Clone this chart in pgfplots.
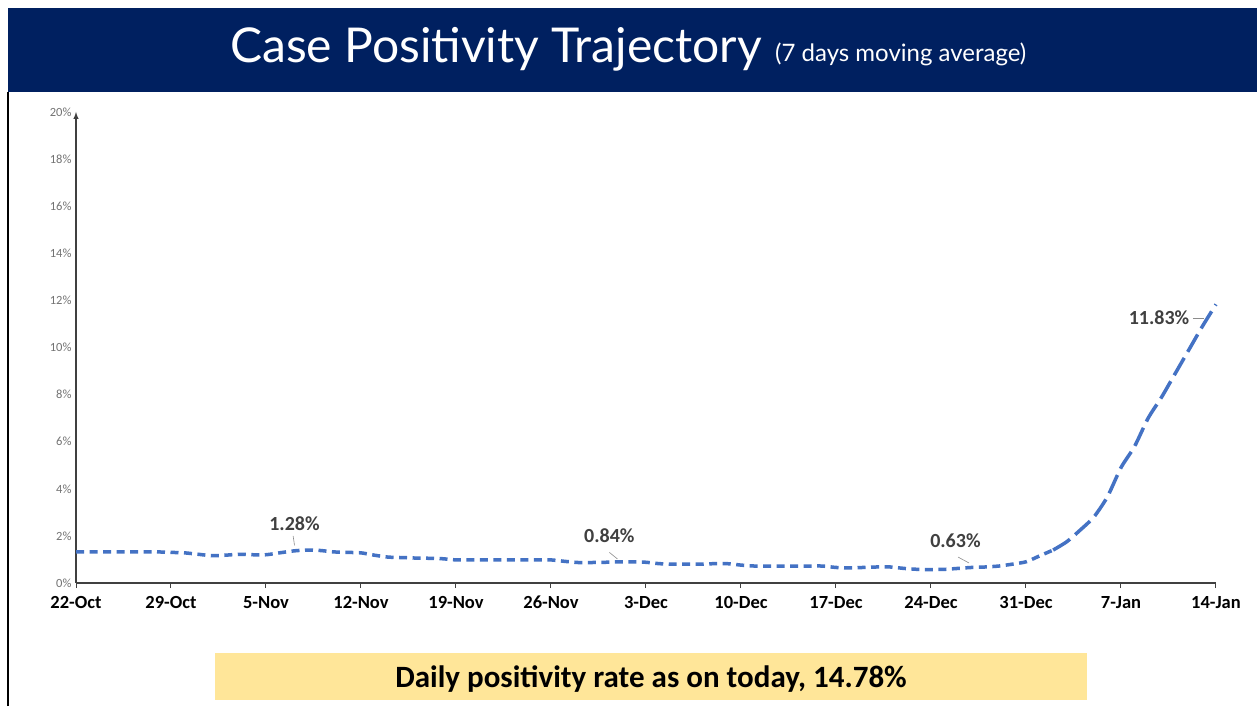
\documentclass[border=0pt]{standalone}
\usepackage{fontspec}
\setmainfont{Carlito}
\newfontfamily\titlefont{Lato}
\usepackage{pgfplots}
\usepackage{pgfplotstable}
\pgfplotsset{compat=1.18}
\definecolor{navy}{RGB}{0,32,96}
\definecolor{lineblue}{RGB}{68,114,196}
\definecolor{boxyellow}{RGB}{255,230,153}
\definecolor{annot}{RGB}{64,64,64}

\pgfplotstableread{
day val
0 1.32
1 1.32
2 1.32
3 1.32
4 1.32
5 1.32
6 1.32
7 1.30
8 1.28
9 1.22
10 1.16
11 1.18
12 1.22
13 1.20
14 1.20
15 1.28
16 1.36
17 1.40
18 1.38
19 1.32
20 1.30
21 1.28
22 1.18
23 1.10
24 1.08
25 1.06
26 1.05
27 1.03
28 0.98
29 0.98
30 0.98
31 0.98
32 0.98
33 0.98
34 0.98
35 0.98
36 0.92
37 0.87
38 0.87
39 0.88
40 0.90
41 0.90
42 0.88
43 0.82
44 0.80
45 0.80
46 0.80
47 0.82
48 0.82
49 0.76
50 0.72
51 0.72
52 0.72
53 0.72
54 0.72
55 0.72
56 0.66
57 0.64
58 0.66
59 0.68
60 0.68
61 0.62
62 0.58
63 0.57
64 0.58
65 0.62
66 0.66
67 0.68
68 0.72
69 0.80
70 0.90
71 1.15
72 1.40
}\flatdata

\pgfplotstableread{
day val
72 1.40
73 1.75
74 2.25
75 2.80
76 3.66
77 4.90
78 5.80
79 7.00
80 7.90
81 8.90
82 9.90
83 10.90
84 11.83
}\risedata

\begin{document}
\begin{tikzpicture}[x=1pt,y=1pt]
\path[fill=white] (0,0) rectangle (1257,706);
\fill[navy] (8,614) rectangle (1257,698);
\draw[black, line width=1.5pt] (8,0) -- (8,614);
\node[anchor=base west, text=white, inner sep=0pt] at (230,643)
  {\titlefont\fontsize{48}{48}\selectfont Case Positivity Trajectory};
\node[anchor=base west, text=white, inner sep=0pt] at (775,644)
  {\titlefont\fontsize{24}{24}\selectfont (7 days moving average)};

\fill[boxyellow] (215,6) rectangle (1087,53);
\node[text=black, inner sep=0pt] at (651,27)
  {\fontsize{31}{31}\selectfont\bfseries Daily positivity rate as on today, 14.78\%};

\begin{axis}[
  at={(76pt,123pt)}, anchor=south west,
  scale only axis, width=1140pt, height=471pt,
  xmin=0, xmax=84, ymin=0, ymax=20,
  axis x line*=bottom, axis y line*=left,
  x axis line style={-, line width=1.6pt, draw=black!75},
  y axis line style={-latex, line width=1.4pt, draw=black!75},
  xtick={0,7,...,84},
  xticklabels={22-Oct,29-Oct,5-Nov,12-Nov,19-Nov,26-Nov,3-Dec,10-Dec,17-Dec,24-Dec,31-Dec,7-Jan,14-Jan},
  xticklabel style={font=\fontsize{18.5}{18.5}\selectfont\bfseries, text=black, yshift=-4pt, text height=13pt, text depth=4pt},
  tick align=outside, major tick length=5pt,
  xtick style={line width=1pt, draw=black!75},
  ytick={0,2,...,20},
  yticklabel={\pgfmathprintnumber{\tick}\%},
  ytick style={draw=none},
  yticklabel style={font=\fontsize{12.5}{12.5}\selectfont, text=black!55, xshift=4pt},
  /pgf/number format/assume math mode=true,
  clip=false,
]
\addplot[lineblue, line width=3.5pt, smooth, tension=0.4, dash pattern=on 8pt off 5.5pt] table[x=day, y=val] {\flatdata};
\addplot[lineblue, line width=3.5pt, smooth, tension=0.4, dash pattern=on 20pt off 7pt] table[x=day, y=val] {\risedata};

\node[font=\fontsize{20}{20}\selectfont\bfseries, text=annot] at (axis cs:16.1,2.5) {1.28\%};
\draw[black!45, line width=0.6pt] (axis cs:16.0,2.0) -- (axis cs:16.1,1.6);
\node[font=\fontsize{20}{20}\selectfont\bfseries, text=annot] at (axis cs:39.3,2.0) {0.84\%};
\draw[black!45, line width=0.6pt] (axis cs:39.3,1.3) -- (axis cs:39.9,1.02);
\node[font=\fontsize{20}{20}\selectfont\bfseries, text=annot] at (axis cs:64.8,1.78) {0.63\%};
\draw[black!45, line width=0.6pt] (axis cs:65.0,1.1) -- (axis cs:65.8,0.85);
\node[font=\fontsize{20}{20}\selectfont\bfseries, text=annot] at (axis cs:79.8,11.25) {11.83\%};
\draw[black!45, line width=0.6pt] (axis cs:82.3,11.25) -- (axis cs:83.1,11.25);
\end{axis}
\end{tikzpicture}
\end{document}
